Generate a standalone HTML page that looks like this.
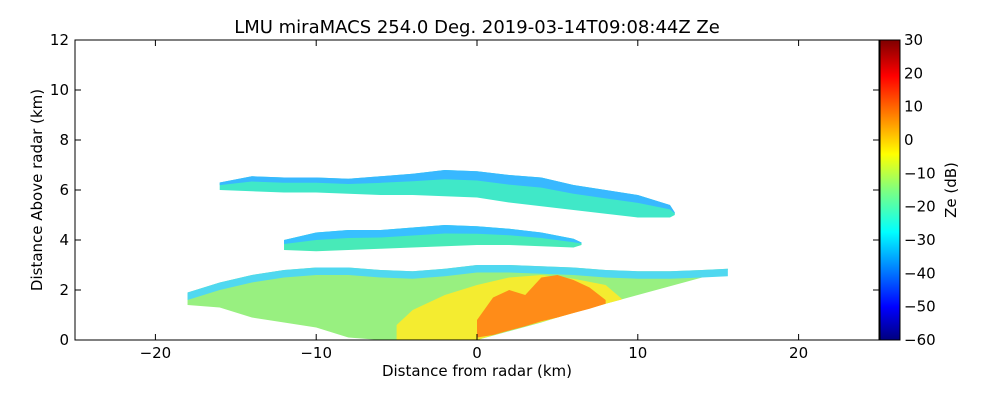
<!DOCTYPE html>
<html><head><meta charset="utf-8"><style>
body{margin:0;background:#fff;font-family:"Liberation Sans","DejaVu Sans",sans-serif}
svg text{font-family:"DejaVu Sans","Liberation Sans",sans-serif}
</style></head><body>
<svg id="c" width="1000" height="400">
<defs>
<linearGradient id="jet" x1="0" y1="1" x2="0" y2="0">
<stop offset="0" stop-color="#00007f"/><stop offset="0.11" stop-color="#0000ff"/>
<stop offset="0.36" stop-color="#00ffff"/><stop offset="0.5" stop-color="#7fff7f"/>
<stop offset="0.62" stop-color="#ffff00"/><stop offset="0.88" stop-color="#ff0000"/>
<stop offset="1" stop-color="#7f0000"/></linearGradient>
</defs>
<g id="marks"></g>
<rect x="75" y="40" width="804" height="300" fill="none" stroke="#000"/>
<g id="axes"></g>
<text x="477" y="33" font-size="18" text-anchor="middle">LMU miraMACS 254.0 Deg. 2019-03-14T09:08:44Z  Ze</text>
<text x="477" y="376" font-size="15" text-anchor="middle">Distance from radar (km)</text>
<text transform="translate(42,190) rotate(-90)" font-size="15" text-anchor="middle">Distance Above radar  (km)</text>
<rect x="880" y="40" width="20" height="300" fill="url(#jet)" stroke="#000"/>
<text transform="translate(956,190) rotate(-90)" font-size="15" text-anchor="middle">Ze (dB)</text>
</svg>
<script>
const xTicks=[-20,-10,0,10,20];
const yTicks=[0,2,4,6,8,10,12];
const cbTicks=[30,20,10,0,-10,-20,-30,-40,-50,-60];
const upX=[-16,-14,-12,-10,-8,-6,-4,-2,0,2,4,6,8,10,12,12.3];
const upBot=[6.0,5.95,5.9,5.9,5.85,5.8,5.8,5.75,5.7,5.5,5.35,5.2,5.05,4.9,4.9,5.0];
const upTop=[6.3,6.55,6.5,6.5,6.45,6.55,6.65,6.8,6.75,6.6,6.5,6.2,6.0,5.8,5.4,5.1];
const midX=[-12,-10,-8,-6,-4,-2,0,2,4,6,6.5];
const midBot=[3.6,3.55,3.6,3.65,3.7,3.75,3.8,3.8,3.75,3.7,3.8];
const midTop=[4.0,4.3,4.4,4.4,4.5,4.6,4.55,4.45,4.3,4.05,3.9];
const lowX=[-18,-16,-14,-12,-10,-8,-6,-4,-2,0,2,4,6,8,10,12,14,15.6];
const lowTop=[1.9,2.3,2.6,2.8,2.9,2.9,2.8,2.75,2.85,3.0,3.0,2.95,2.9,2.8,2.75,2.75,2.8,2.85];
const lowBot=[1.4,1.3,0.9,0.7,0.5,0.1,0,0,0,0,0.35,0.7,1.1,1.45,1.8,2.15,2.5,2.8];
const coreX=[-5,-4,-2,0,2,4,6,8,9];
const coreTop=[0.6,1.2,1.8,2.2,2.5,2.6,2.45,2.2,1.65];
const coreBot=[0,0,0,0,0.38,0.72,1.08,1.45,1.62];
const hotX=[0,1,2,3,4,5,6,7,8];
const hotTop=[0.8,1.7,2.0,1.8,2.5,2.6,2.4,2.1,1.6];
const hotBot=[0.1,0.2,0.38,0.55,0.75,0.9,1.08,1.25,1.45];
const X=v=>477+v*16.08, Y=v=>340-v*25, C=v=>340-(v+60)/90*300;
const NS='http://www.w3.org/2000/svg';
const marks=document.getElementById('marks'), axes=document.getElementById('axes');
function mk(p,t,a){const e=document.createElementNS(NS,t);for(const k in a)e.setAttribute(k,a[k]);p.appendChild(e);return e;}
function band(xs,bot,top,fill,name){
  let pts=xs.map((x,i)=>X(x)+','+Y(top[i]));
  for(let i=xs.length-1;i>=0;i--)pts.push(X(xs[i])+','+Y(bot[i]));
  const e=mk(marks,'polygon',{points:pts.join(' '),fill:fill});
  
  
}
band(upX,upBot,upTop,'#40e8c8','upper-cloud-layer');
band(upX,upBot.map((b,i)=>b+(upTop[i]-b)*0.65),upTop,'#38b8ff','upper-cloud-top');
band(midX,midBot,midTop,'#48eab8','middle-cloud-layer');
band(midX,midBot.map((b,i)=>b+(midTop[i]-b)*0.6),midTop,'#38c0ff','middle-cloud-top');
band(lowX,lowBot,lowTop,'#98f080','lower-cloud-layer');
band(lowX,lowTop.map(t=>t-0.3),lowTop,'#50d8f0','lower-cloud-top');
band(coreX,coreBot,coreTop,'#f4ec30','yellow-core');
band(hotX,hotBot,hotTop,'#ff8c18','orange-core');
xTicks.forEach(v=>{const x=X(v);
  mk(axes,'line',{x1:x,x2:x,y1:340,y2:334,stroke:'#000'});mk(axes,'line',{x1:x,x2:x,y1:40,y2:46,stroke:'#000'});
  const t=mk(axes,'text',{x:x,y:358,'font-size':15,'text-anchor':'middle'});t.textContent=v<0?'\u2212'+(-v):v;
  
  });
yTicks.forEach(v=>{const y=Y(v);
  mk(axes,'line',{x1:75,x2:81,y1:y,y2:y,stroke:'#000'});mk(axes,'line',{x1:879,x2:873,y1:y,y2:y,stroke:'#000'});
  const t=mk(axes,'text',{x:69,y:y+5,'font-size':15,'text-anchor':'end'});t.textContent=v;
  
  });
cbTicks.forEach(v=>{const y=C(v);
  mk(axes,'line',{x1:895,x2:900,y1:y,y2:y,stroke:'#000'});
  const t=mk(axes,'text',{x:904,y:y+5,'font-size':15});t.textContent=v<0?'\u2212'+(-v):v;
  
  });
</script>
</body></html>
